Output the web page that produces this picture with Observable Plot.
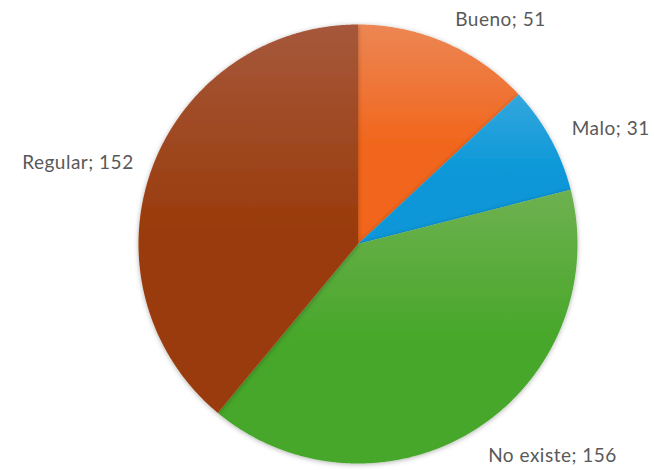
<!DOCTYPE html>
<html><head><meta charset="utf-8">
<script src="https://cdn.jsdelivr.net/npm/d3@7"></script>
<script src="https://cdn.jsdelivr.net/npm/@observablehq/plot@0.6"></script>
<style>
html,body{margin:0;padding:0;background:#fff}
#chart svg{display:block}
</style>
</head><body><div id="chart"></div>
<script>
const categories = ["Bueno", "Malo", "No existe", "Regular"];
const values = [51, 31, 156, 152];
const colorsTop = ["#EC8654", "#34A6DD", "#6EB150", "#A6583B"];
const colorsBottom = ["#F1661C", "#0897D8", "#47A72A", "#993A0A"];

const W = 654, H = 470, cx = 357.5, cy = 243.5, R = 219.5;

const data = categories.map((c, i) => ({name: c, value: values[i], i}));
const arcs = d3.pie().sort(null).value(d => d.value)(data);

// polygon points per slice (clockwise from 12 o'clock), y pointing up
const polys = arcs.map(a => {
  const pts = [{x: 0, y: 0}];
  const n = Math.max(2, Math.ceil((a.endAngle - a.startAngle) / 0.005));
  for (let k = 0; k <= n; k++) {
    const t = a.startAngle + (a.endAngle - a.startAngle) * k / n;
    pts.push({x: R * Math.sin(t), y: R * Math.cos(t)});
  }
  return {name: a.data.name, i: a.data.i, pts};
});

const labels = arcs.map(a => {
  const m = (a.startAngle + a.endAngle) / 2;
  const right = Math.sin(m) >= 0;
  return {
    text: `${a.data.name}; ${a.data.value}`,
    x: (R + (right ? 24 : 19)) * Math.sin(m),
    y: (R + 28) * Math.cos(m),
    right
  };
});

const sliceMarks = polys.map(p => Plot.line(p.pts, {
  x: "x", y: "y", curve: "linear-closed",
  fill: `url(#grad${p.i})`, stroke: "none"
}));

const textStyle = {fill: "#595959", fontSize: 19, fontFamily: "Lato", dy: 3};

const plot = Plot.plot({
  width: W, height: H,
  margin: 0,
  x: {domain: [-cx, W - cx], range: [0, W], axis: null},
  y: {domain: [-(H - cy), cy], range: [H, 0], axis: null},
  style: {background: "#fff"},
  marks: [
    ...sliceMarks,
    Plot.text(labels.filter(d => d.right), {
      x: "x", y: "y", text: "text", textAnchor: "start", ...textStyle
    }),
    Plot.text(labels.filter(d => !d.right), {
      x: "x", y: "y", text: "text", textAnchor: "end", ...textStyle
    })
  ]
});

const svg = d3.select(plot);
const defs = svg.insert("defs", ":first-child");
categories.forEach((c, i) => {
  const g = defs.append("linearGradient").attr("id", `grad${i}`)
    .attr("x1", 0).attr("y1", 0).attr("x2", 0).attr("y2", 1);
  g.append("stop").attr("offset", "0%").attr("stop-color", colorsTop[i]);
  g.append("stop").attr("offset", "55%").attr("stop-color", colorsBottom[i]);
  g.append("stop").attr("offset", "100%").attr("stop-color", colorsBottom[i]);
});
const f = defs.append("filter").attr("id", "shadow")
  .attr("x", "-10%").attr("y", "-10%").attr("width", "120%").attr("height", "120%");
f.append("feDropShadow").attr("dx", 0).attr("dy", 1).attr("stdDeviation", 2.5)
  .attr("flood-color", "#000").attr("flood-opacity", 0.3);
svg.selectAll("g[aria-label='line']").attr("filter", "url(#shadow)");
svg.selectAll("g[aria-label='text']").attr("letter-spacing", "0.5px");

document.getElementById("chart").appendChild(plot);
</script>
</body></html>
